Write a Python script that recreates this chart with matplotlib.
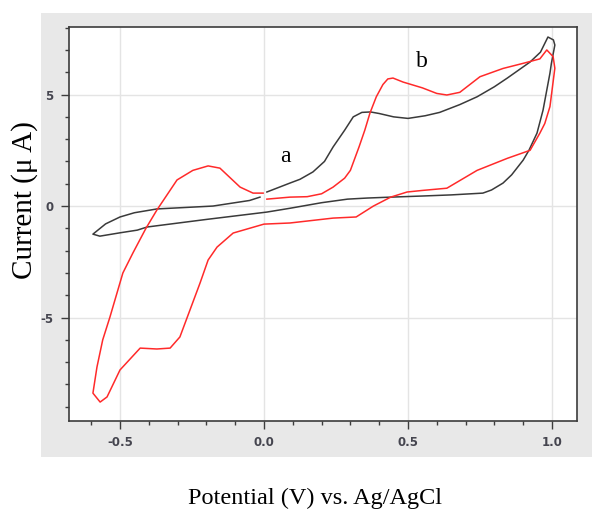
import numpy as np
import matplotlib
matplotlib.use("Agg")
import matplotlib.pyplot as plt
from matplotlib.patches import Rectangle
from matplotlib.ticker import MultipleLocator, FormatStrFormatter

# Cyclic voltammograms, potential [V vs Ag/AgCl] and current [uA]
a_potential = [0.01, 0.09, 0.125, 0.17, 0.21, 0.24, 0.28, 0.31, 0.34, 0.37, 0.40, 0.45,
               0.50, 0.56, 0.61, 0.68, 0.74, 0.80, 0.845, 0.924, 0.96, 0.986, 1.005, 1.01,
               0.998, 0.993, 0.969, 0.948, 0.92, 0.90, 0.86, 0.83, 0.79, 0.76, 0.65, 0.55,
               0.44, 0.36, 0.29, 0.20, 0.09, 0.01, -0.20, -0.406, -0.44, -0.50, -0.57,
               -0.594, -0.55, -0.50, -0.45, -0.372, -0.177, -0.05, -0.014]
a_current = [0.63, 1.03, 1.2, 1.53, 2.0, 2.65, 3.4, 4.0, 4.2, 4.22, 4.15, 4.0,
             3.93, 4.05, 4.2, 4.55, 4.9, 5.35, 5.74, 6.46, 6.9, 7.58, 7.45, 7.22,
             6.4, 5.96, 4.3, 3.27, 2.5, 2.06, 1.4, 1.03, 0.72, 0.58, 0.5, 0.45,
             0.40, 0.36, 0.31, 0.15, -0.1, -0.27, -0.6, -0.94, -1.08, -1.2, -1.35,
             -1.26, -0.8, -0.49, -0.3, -0.13, 0.0, 0.25, 0.40]

b_potential = [0.01, 0.09, 0.15, 0.20, 0.24, 0.28, 0.30, 0.33, 0.35, 0.368, 0.39, 0.413,
               0.43, 0.448, 0.483, 0.55, 0.60, 0.635, 0.68, 0.75, 0.83, 0.90, 0.958, 0.982,
               1.004, 1.01, 0.993, 0.975, 0.958, 0.924, 0.845, 0.74, 0.635, 0.55, 0.497,
               0.44, 0.38, 0.32, 0.24, 0.09, 0.0, -0.107, -0.163, -0.194, -0.222, -0.257,
               -0.292, -0.326, -0.372, -0.43, -0.50, -0.545, -0.569, -0.594, -0.58, -0.56,
               -0.535, -0.49, -0.455, -0.41, -0.372, -0.302, -0.247, -0.194, -0.153,
               -0.083, -0.038, -0.003]
b_current = [0.31, 0.4, 0.42, 0.55, 0.85, 1.25, 1.6, 2.65, 3.4, 4.17, 4.9, 5.45,
             5.7, 5.74, 5.56, 5.3, 5.05, 4.98, 5.1, 5.8, 6.17, 6.4, 6.6, 7.0,
             6.7, 6.18, 4.46, 3.7, 3.27, 2.5, 2.14, 1.6, 0.8, 0.7, 0.63,
             0.4, 0.0, -0.49, -0.54, -0.76, -0.81, -1.21, -1.84, -2.42, -3.45, -4.66,
             -5.87, -6.37, -6.41, -6.37, -7.35, -8.56, -8.79, -8.39, -7.22, -6.0,
             -4.98, -3.0, -2.1, -1.0, -0.18, 1.17, 1.6, 1.8, 1.7,
             0.85, 0.58, 0.58]

serif = "Liberation Serif"
plt.rcParams["axes.unicode_minus"] = False

fig = plt.figure(figsize=(5.92, 5.13), dpi=100)
# grey panel behind the plot area
fig.patches.append(Rectangle((0.0693, 0.109), 0.93, 0.866, transform=fig.transFigure,
                             facecolor="#e8e8e8", edgecolor="none", zorder=-10))
ax = fig.add_axes([0.1166, 0.1793, 0.8581, 0.7681])
ax.set_facecolor("white")

ax.plot(a_potential, a_current, color="#3a3a3a", lw=1.1)
ax.plot(b_potential, b_current, color="#ff2a2a", lw=1.1)

ax.text(0.073, 2.2, "a", fontfamily=serif, fontsize=17, ha="center", va="center")
ax.text(0.55, 6.46, "b", fontfamily=serif, fontsize=17, ha="center", va="center")

ax.set_xlim(-0.677, 1.087)
ax.set_ylim(-9.64, 8.03)
ax.xaxis.set_major_locator(MultipleLocator(0.5))
ax.xaxis.set_minor_locator(MultipleLocator(0.1))
ax.yaxis.set_major_locator(MultipleLocator(5))
ax.yaxis.set_minor_locator(MultipleLocator(1))
ax.xaxis.set_major_formatter(FormatStrFormatter("%.1f"))
ax.grid(True, which="major", color="#e4e4e4", lw=1.0)
ax.set_axisbelow(True)

for s in ax.spines.values():
    s.set_color("#3c3c3c")
    s.set_linewidth(1.2)
ax.tick_params(which="major", length=6, width=1, color="#3c3c3c",
               labelsize=8.5, labelcolor="#45454f", pad=5)
ax.tick_params(which="minor", length=3, width=1, color="#3c3c3c")
for lab in ax.get_xticklabels() + ax.get_yticklabels():
    lab.set_fontweight("bold")

fig.text(0.042, 0.610, "Current (\u03bc A)", fontfamily=serif, fontsize=21,
         rotation=90, ha="center", va="center")
fig.text(0.532, 0.029, "Potential (V) vs. Ag/AgCl", fontfamily=serif, fontsize=17.5,
         ha="center", va="center")

fig.savefig("out.png", dpi=100)
